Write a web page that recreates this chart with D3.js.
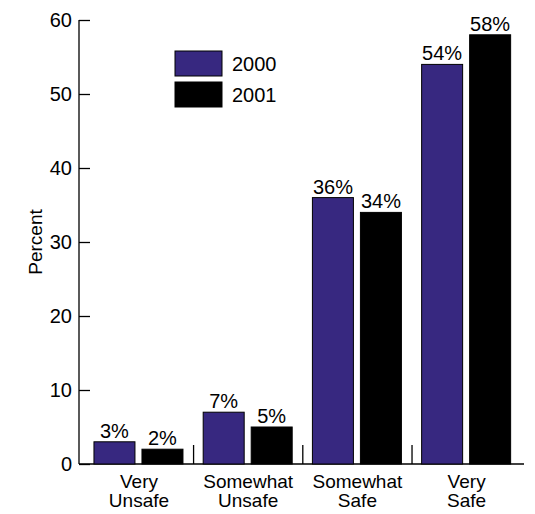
<!DOCTYPE html>
<html><head><meta charset="utf-8">
<script src="https://cdn.jsdelivr.net/npm/d3@7"></script>
<style>body{margin:0;background:#fff}svg{display:block}text{font-family:"Liberation Sans",Arial,Helvetica,sans-serif;fill:#000}</style>
</head><body><div id="chart"></div>
<script>
const categories = [["Very","Unsafe"],["Somewhat","Unsafe"],["Somewhat","Safe"],["Very","Safe"]];
const seriesNames = ["2000","2001"];
const values2000 = [3,7,36,54];
const values2001 = [2,5,34,58];
const yTicks = [0,10,20,30,40,50,60];
const colors = ["#372880","#000000"];

const W=535,H=514;
const svg=d3.select("#chart").append("svg").attr("width",W).attr("height",H);
const y=d3.scaleLinear().domain([0,60]).range([464,20]);
const catIdx=categories.map((d,i)=>i);
const x0=d3.scaleBand().domain(catIdx).range([79,526.6]).paddingInner(0.176).paddingOuter(0.137);
const x1=d3.scaleBand().domain(seriesNames).range([0,89]).paddingInner(0.146);
const data=[values2000,values2001];

// y axis
const yAx=svg.append("g").attr("transform","translate(79,0)").call(d3.axisRight(y).tickValues(yTicks).tickSize(11).tickFormat(""));
yAx.select(".domain").remove();
yAx.selectAll("line").attr("stroke","#000").attr("stroke-width",1.3);
svg.append("line").attr("x1",79).attr("x2",79).attr("y1",y(60)).attr("y2",y(0)).attr("stroke","#000").attr("stroke-width",1.3);
svg.selectAll(".ytl").data(yTicks).enter().append("text").attr("x",72).attr("y",d=>y(d)).attr("dy","0.36em")
  .attr("text-anchor","end").style("font-size","20px").text(d=>d);
// x axis line
svg.append("line").attr("x1",79).attr("x2",524).attr("y1",y(0)).attr("y2",y(0)).attr("stroke","#000").attr("stroke-width",1.3);
// separators
for(let i=1;i<categories.length;i++){
  const xs=(x0(i-1)+x0.bandwidth()+x0(i))/2;
  svg.append("line").attr("x1",xs).attr("x2",xs).attr("y1",y(0)-19).attr("y2",y(0)).attr("stroke","#000").attr("stroke-width",1.3);
}
// bars
seriesNames.forEach((s,si)=>{
  const g=svg.append("g");
  g.selectAll("rect").data(data[si]).enter().append("rect")
   .attr("x",(d,i)=>x0(i)+x1(s)).attr("y",d=>y(d)).attr("width",x1.bandwidth()).attr("height",d=>y(0)-y(d))
   .attr("fill",colors[si]).attr("stroke","#000").attr("stroke-width",1);
  g.selectAll("text").data(data[si]).enter().append("text")
   .attr("x",(d,i)=>x0(i)+x1(s)+x1.bandwidth()/2).attr("y",d=>y(d)-4)
   .attr("text-anchor","middle").style("font-size","20px").text(d=>d+"%");
});
// category labels
categories.forEach((c,i)=>{
  const cx=x0(i)+x0.bandwidth()/2;
  c.forEach((t,li)=>{
    svg.append("text").attr("x",cx).attr("y",488+li*19).attr("text-anchor","middle").style("font-size","19px").text(t);
  });
});
// y title
svg.append("text").attr("transform","translate(42,242) rotate(-90)").attr("text-anchor","middle").style("font-size","19px").text("Percent");
// legend
seriesNames.forEach((s,si)=>{
  svg.append("rect").attr("x",175).attr("y",51+si*31).attr("width",47).attr("height",25).attr("fill",colors[si]).attr("stroke","#000").attr("stroke-width",1);
  svg.append("text").attr("x",232).attr("y",63.5+si*31).attr("dy","0.36em").style("font-size","20px").text(s);
});
</script></body></html>
